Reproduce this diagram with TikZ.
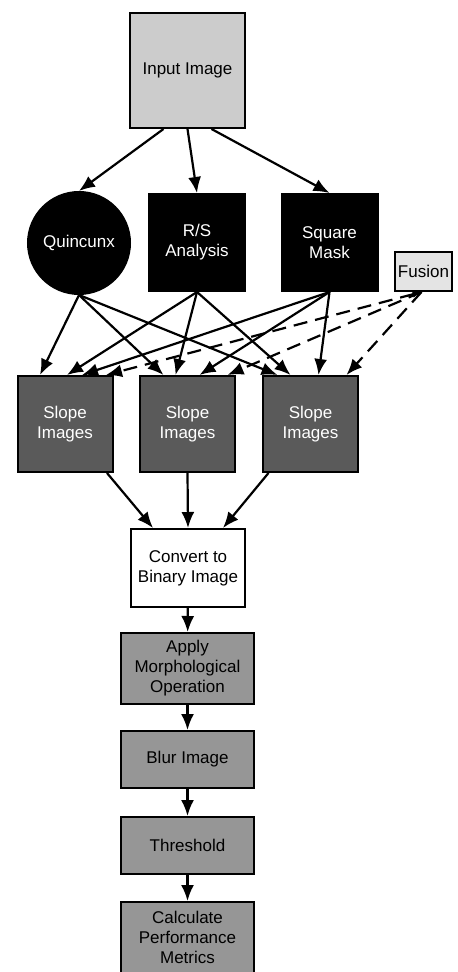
\documentclass[tikz,border=0pt]{standalone}
\usepackage{fontspec}
\setmainfont{Liberation Sans}
\usetikzlibrary{arrows.meta}
\definecolor{inputbg}{RGB}{204,204,204}
\definecolor{fusionbg}{RGB}{228,228,228}
\definecolor{slopebg}{RGB}{90,90,90}
\definecolor{stepbg}{RGB}{150,150,150}
\tikzset{
  box/.style={rectangle, draw=black, line width=1pt, inner sep=1pt, align=center, font=\fontsize{8.5}{10}\selectfont},
  inputbox/.style={box, fill=inputbg, minimum width=57.5pt, minimum height=57.5pt},
  method/.style={box, fill=black, text=white, minimum width=48pt, minimum height=48.5pt},
  methodround/.style={method, circle, minimum size=51pt},
  fusionbox/.style={box, fill=fusionbg, minimum width=28.5pt, minimum height=19.5pt},
  slope/.style={box, fill=slopebg, text=white, minimum width=47.5pt, minimum height=48pt},
  binary/.style={box, fill=white, minimum width=57pt, minimum height=39pt},
  stage/.style={box, fill=stepbg, minimum width=66.5pt, minimum height=28.5pt},
  stagetall/.style={stage, minimum height=35.5pt},
  flow/.style={-{Latex[length=8pt,width=6.5pt]}, line width=1.1pt},
  dashflow/.style={flow, dash pattern=on 7pt off 4pt},
}

\begin{document}
\begin{tikzpicture}[x=0.5pt, y=-0.5pt]
\useasboundingbox (0,0) rectangle (457,972);
% top row
\node[inputbox] (input) at (187.5,70.5) {Input Image};
\node[methodround] (quincunx) at (79,243) {Quincunx};
\node[method] (rs) at (197,242.5) {R/S\\ Analysis};
\node[method] (square) at (329.5,242.5) {Square\\ Mask};
\node[fusionbox] (fusion) at (423.5,271.5) {Fusion};
% slope images
\node[slope] (slopeA) at (65,424) {Slope\\ Images};
\node[slope] (slopeB) at (187.5,424) {Slope\\ Images};
\node[slope] (slopeC) at (310.5,424) {Slope\\ Images};
% pipeline
\node[binary] (binary) at (188,568) {Convert to\\ Binary Image};
\node[stagetall] (morph) at (187.5,668.5) {Apply\\ Morphological\\ Operation};
\node[stage] (blur) at (187.5,759.5) {Blur Image};
\node[stage] (thresh) at (187.5,845.5) {Threshold};
\node[stagetall] (metrics) at (187.5,937.5) {Calculate\\ Performance\\ Metrics};

\draw[flow] ([xshift=-12pt]input.south) -- (quincunx.north);
\draw[flow] (input.south) -- (rs.north);
\draw[flow] ([xshift=12pt]input.south) -- (square.north);

\draw[flow] (quincunx.south) -- ([xshift=-12.5pt]slopeA.north);
\draw[flow] (quincunx.south) -- ([xshift=-12pt]slopeB.north);
\draw[flow] (quincunx.south) -- ([xshift=-16.5pt]slopeC.north);
\draw[flow] (rs.south) -- ([xshift=1pt]slopeA.north);
\draw[flow] (rs.south) -- ([xshift=-6pt]slopeB.north);
\draw[flow] (rs.south) -- ([xshift=-10pt]slopeC.north);
\draw[flow] (square.south) -- ([xshift=8.5pt]slopeA.north);
\draw[flow] (square.south) -- ([xshift=6pt]slopeB.north);
\draw[flow] (square.south) -- ([xshift=4pt]slopeC.north);
\draw[dashflow, {Latex[length=4.5pt,width=3.5pt]}-{Latex[length=8pt,width=6.5pt]}] ([xshift=-1pt]fusion.south) -- ([xshift=20.5pt]slopeA.north);
\draw[dashflow] ([xshift=-1pt]fusion.south) -- ([xshift=20pt]slopeB.north);
\draw[dashflow] ([xshift=-1pt]fusion.south) -- ([xshift=18pt]slopeC.north);

\draw[flow] ([xshift=21pt]slopeA.south) -- ([xshift=-17.5pt]binary.north);
\draw[flow] (slopeB.south) -- (binary.north);
\draw[flow] ([xshift=-21pt]slopeC.south) -- ([xshift=17.5pt]binary.north);

\draw[flow] (binary) -- (morph);
\draw[flow] (morph) -- (blur);
\draw[flow] (blur) -- (thresh);
\draw[flow] (thresh) -- (metrics);
\end{tikzpicture}
\end{document}
